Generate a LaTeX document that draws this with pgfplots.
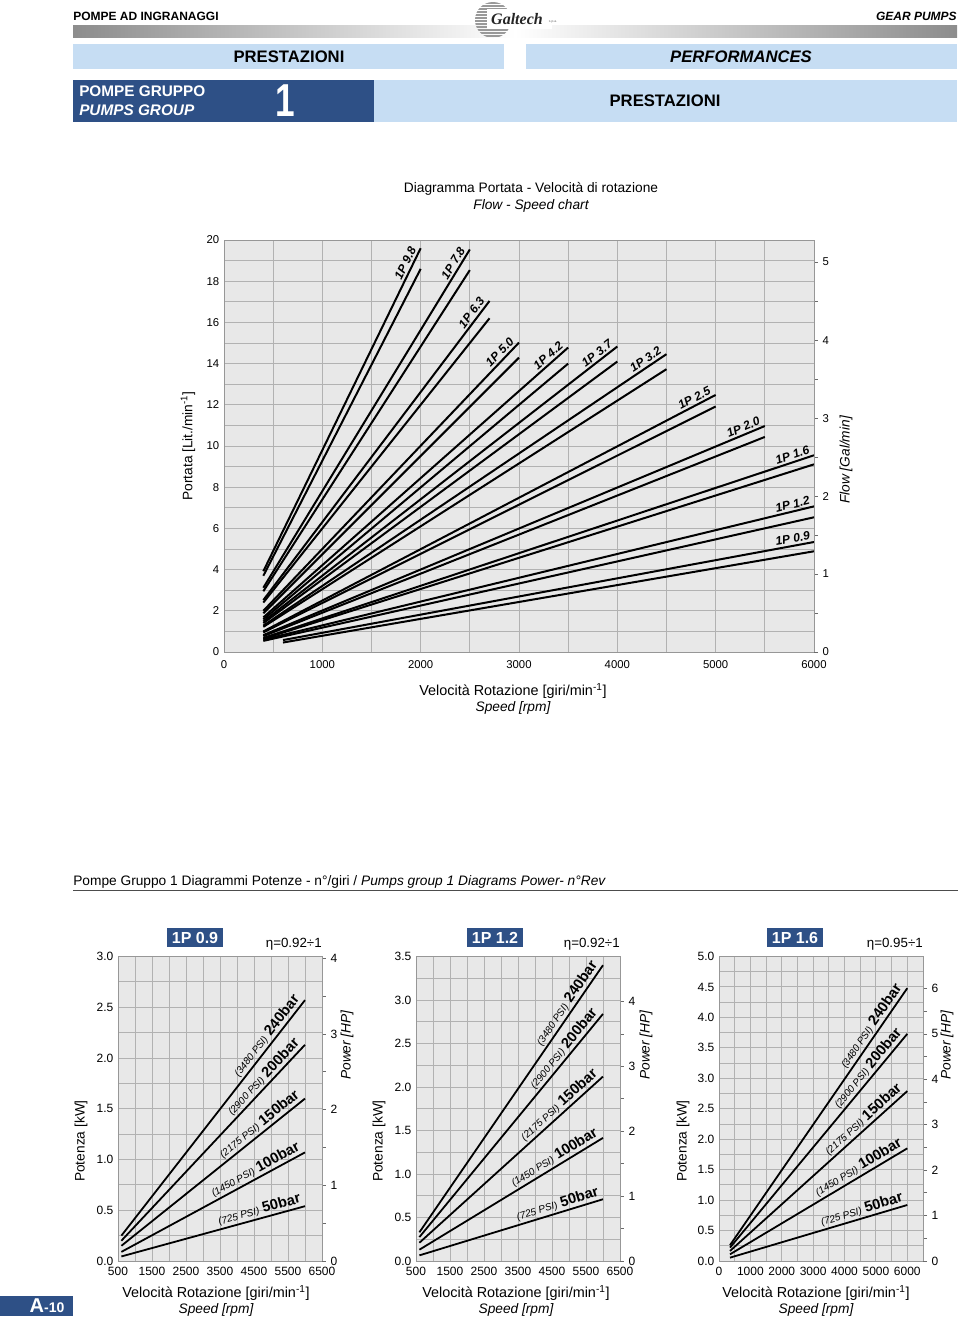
\documentclass[border=0pt]{standalone}
\usepackage{pgfplots}
\pgfplotsset{compat=1.18}
\usepackage{fontspec}
\setmainfont{Liberation Sans}
\newfontfamily\logofont{Liberation Serif}
\definecolor{lblue}{RGB}{198,221,243}
\definecolor{dblue}{RGB}{46,80,134}
\definecolor{plotbg}{RGB}{232,232,232}
\definecolor{gridc}{RGB}{178,178,178}
\newcommand{\fs}[1]{\fontsize{#1}{#1}\selectfont}
\newcommand{\mi}{min\textsuperscript{-1}}
\newcommand{\pl}[2]{{\fs{7.5}\itshape(#1 PSI)} {\fs{11}\bfseries #2bar}}
\tikzset{
  lab/.style={pos=1, sloped, anchor=south east, inner sep=1.5pt, font=\fs{9}\bfseries\itshape},
  plab/.style={pos=1, sloped, anchor=south east, inner sep=1.2pt},
}
\pgfplotsset{
  base/.style={scale only axis, anchor=south west, clip=false,
    axis background/.style={fill=plotbg},
    grid=both, major grid style={draw=gridc, line width=0.7pt}, minor grid style={draw=gridc, line width=0.7pt},
    axis line style={draw=gridc!85!black, line width=0.7pt},
    major tick length=0pt, minor tick length=0pt,
    xtick pos=bottom, ytick pos=left,
    /pgf/number format/assume math mode=true, /pgf/number format/1000 sep={},
    tick label style={font=\fs{8.5}}},
  rbase/.style={scale only axis, anchor=south west, axis x line=none, axis y line*=right,
    y axis line style={draw=gridc!85!black, line width=0.7pt},
    tick align=outside, major tick length=3pt, minor tick length=3pt,
    every tick/.style={gridc!60!black, line width=0.6pt},
    minor y tick num=1,
    /pgf/number format/assume math mode=true,
    tick label style={font=\fs{8.5}}},
  fl/.style={black, line width=1.5pt, line cap=butt},
  pw/.style={black, line width=1.35pt, line cap=butt},
  powax/.style={base, width=153pt, height=228.4pt, ymin=0,
    tick label style={font=\fs{9}},
    xticklabel style={yshift=-1pt},
    yticklabel style={/pgf/number format/.cd, fixed, fixed zerofill, precision=1},
    minor x tick num=1, minor y tick num=1},
  powr/.style={rbase, width=153pt, height=228.4pt, ymin=0, tick label style={font=\fs{9}}},
}
\begin{document}
\begin{tikzpicture}
\path[use as bounding box] (0pt,0pt) rectangle (720pt,-991.5pt);
\clip (0pt,0pt) rectangle (720pt,-991.5pt);
\begin{scope}[x=0.75pt,y=-0.75pt]
% ---------- header ----------
\node[anchor=west, font=\fs{9}\bfseries, inner sep=0] at (73,16) {POMPE AD INGRANAGGI};
\node[anchor=east, font=\fs{9}\bfseries\itshape, inner sep=0] at (957,16) {GEAR PUMPS};
\shade[left color=black!45, right color=white] (73,25) rectangle (515,37);
\shade[left color=white, right color=black!45] (515,25) rectangle (957,37);
\begin{scope}
\clip (493,20) circle (18);
\foreach \yy in {3,6,...,39} \draw[black!40, line width=1.3] (470,\yy) -- (520,\yy);
\end{scope}
\fill[white] (487,9) rectangle (552,29);
\node[font=\logofont\fs{12}\bfseries\itshape, text=black!85, inner sep=0] at (517,19) {Galtech};
\node[font=\fs{2.5}, text=black!60, inner sep=0] at (553,22) {s.p.a.};
\fill[lblue] (73,44) rectangle (504,69);
\node[font=\fs{12.5}\bfseries] at (289,56.5) {PRESTAZIONI};
\fill[lblue] (526,44) rectangle (957,69);
\node[font=\fs{12.5}\bfseries\itshape] at (741,56.5) {PERFORMANCES};
\fill[dblue] (73,80) rectangle (374,122);
\fill[lblue] (374,80) rectangle (957,122);
\node[anchor=west, font=\fs{11.5}\bfseries, text=white, inner sep=0] at (79,91) {POMPE GRUPPO};
\node[anchor=west, font=\fs{11.5}\bfseries\itshape, text=white, inner sep=0] at (79,110) {PUMPS GROUP};
\node[font=\fs{33}\bfseries, text=white, xscale=0.8, yscale=1.05, inner sep=0] at (285,101) {1};
\node[font=\fs{12.5}\bfseries] at (665,101) {PRESTAZIONI};
% ---------- top chart texts ----------
\node[font=\fs{10.3}] at (531,189) {Diagramma Portata - Velocità di rotazione};
\node[font=\fs{10.3}\itshape] at (531,206) {Flow - Speed chart};
\node[rotate=90, font=\fs{10.3}] at (188,446) {Portata [Lit./\mi]};
\node[rotate=90, font=\fs{10.3}\itshape] at (846,460) {Flow [Gal/min]};
\node[font=\fs{10.8}] at (513,691) {Velocità Rotazione [giri/\mi]};
\node[font=\fs{10.3}\itshape] at (513,708) {Speed [rpm]};
% ---------- bottom section texts ----------
\node[anchor=west, font=\fs{10.3}, inner sep=0] at (73,882) {Pompe Gruppo 1 Diagrammi Potenze - n°/giri / \textit{Pumps group 1 Diagrams Power- n°Rev}};
\draw[black!70, line width=0.75] (73,890) -- (958,890);
\foreach \bx/\nm/\et/\rr/\yl/\hp/\cx in {167/0.9/0.92/322/81/347/216, 467/1.2/0.92/620/379/646/516, 767/1.6/0.95/923/683/947/816}{
  \fill[dblue] (\bx,928) rectangle ++(56,19);
  \node[text=white, font=\fs{12}\bfseries] at (\bx+28,937.5) {1P \nm};
  \node[anchor=east, font=\fs{10}, inner sep=0] at (\rr,944) {η=\et÷1};
  \node[rotate=90, font=\fs{10.3}] at (\yl,1141) {Potenza [kW]};
  \node[rotate=90, font=\fs{10.3}\itshape] at (\hp,1045) {Power [HP]};
  \node[font=\fs{10.8}] at (\cx,1293) {Velocità Rotazione [giri/\mi]};
  \node[font=\fs{10.3}\itshape] at (\cx,1310) {Speed [rpm]};
}
\fill[dblue] (0,1296) rectangle (73,1316);
\node[text=white, font=\bfseries, inner sep=0] at (47,1306) {{\fs{15}A}{\fs{10.5}-10}};
\end{scope}

% ================= top chart =================
\begin{axis}[base, at={(168pt,-489pt)}, width=442.5pt, height=309pt,
  xmin=0, xmax=6000, ymin=0, ymax=20,
  xtick={0,1000,...,6000}, minor x tick num=1,
  ytick={0,2,...,20}, minor y tick num=1,
  xticklabel style={yshift=-3pt}]
\addplot[fl] coordinates {(400,3.92) (2000,19.6)} node[lab] {1P 9.8};
\addplot[fl] coordinates {(400,3.70) (2000,18.6)};
\addplot[fl] coordinates {(400,3.12) (2500,19.54)} node[lab] {1P 7.8};
\addplot[fl] coordinates {(400,2.95) (2500,18.54)};
\addplot[fl] coordinates {(400,2.52) (2700,17.04)} node[lab] {1P 6.3};
\addplot[fl] coordinates {(400,2.40) (2700,16.2)};
\addplot[fl] coordinates {(400,2.00) (3000,15.02)} node[lab] {1P 5.0};
\addplot[fl] coordinates {(400,1.88) (3000,14.29)};
\addplot[fl] coordinates {(400,1.68) (3500,14.78)} node[lab] {1P 4.2};
\addplot[fl] coordinates {(400,1.58) (3500,14.0)};
\addplot[fl] coordinates {(400,1.48) (4000,14.83)} node[lab] {1P 3.7};
\addplot[fl] coordinates {(400,1.40) (4000,14.1)};
\addplot[fl] coordinates {(400,1.28) (4500,14.46)} node[lab] {1P 3.2};
\addplot[fl] coordinates {(400,1.22) (4500,13.73)};
\addplot[fl] coordinates {(400,1.00) (5000,12.48)} node[lab] {1P 2.5};
\addplot[fl] coordinates {(400,0.95) (5000,11.92)};
\addplot[fl] coordinates {(400,0.82) (5500,10.97)} node[lab] {1P 2.0};
\addplot[fl] coordinates {(400,0.77) (5500,10.44)};
\addplot[fl] coordinates {(400,0.68) (6000,9.55)} node[lab] {1P 1.6};
\addplot[fl] coordinates {(400,0.64) (6000,9.11)};
\addplot[fl] coordinates {(400,0.60) (6000,7.07)} node[lab] {1P 1.2};
\addplot[fl] coordinates {(400,0.54) (6000,6.54)};
\addplot[fl] coordinates {(600,0.58) (6000,5.34)} node[lab] {1P 0.9};
\addplot[fl] coordinates {(600,0.46) (6000,4.89)};
\end{axis}
\begin{axis}[rbase, at={(168pt,-489pt)}, width=442.5pt, height=309pt,
  xmin=0, xmax=6000, ymin=0, ymax=5.2840, ytick={0,1,...,5}]
\end{axis}

% ================= power chart 1 =================
\begin{axis}[powax, at={(88.5pt,-945.75pt)},
  xmin=500, xmax=6500, xtick={500,1500,...,6500}, ymax=3, ytick={0,0.5,1,1.5,2,2.5,3}]
\addplot[pw] coordinates {(600,0.25) (6000,2.57)} node[plab] {\pl{3480}{240}};
\addplot[pw] coordinates {(600,0.20) (6000,2.13)} node[plab] {\pl{2900}{200}};
\addplot[pw] coordinates {(600,0.15) (6000,1.60)} node[plab] {\pl{2175}{150}};
\addplot[pw] coordinates {(600,0.09) (6000,1.07)} node[plab] {\pl{1450}{100}};
\addplot[pw] coordinates {(600,0.045) (6000,0.54)} node[plab] {\pl{725}{50}};
\end{axis}
\begin{axis}[powr, at={(88.5pt,-945.75pt)}, xmin=500, xmax=6500, ymax=4.0231, ytick={0,1,2,3,4}]
\end{axis}

% ================= power chart 2 =================
\begin{axis}[powax, at={(312pt,-945.75pt)},
  xmin=500, xmax=6500, xtick={500,1500,...,6500}, ymax=3.5, ytick={0,0.5,1,1.5,2,2.5,3,3.5}]
\addplot[pw] coordinates {(600,0.33) (6000,3.40)} node[plab] {\pl{3480}{240}};
\addplot[pw] coordinates {(600,0.275) (6000,2.84)} node[plab] {\pl{2900}{200}};
\addplot[pw] coordinates {(600,0.21) (6000,2.12)} node[plab] {\pl{2175}{150}};
\addplot[pw] coordinates {(600,0.13) (6000,1.415)} node[plab] {\pl{1450}{100}};
\addplot[pw] coordinates {(600,0.065) (6000,0.71)} node[plab] {\pl{725}{50}};
\end{axis}
\begin{axis}[powr, at={(312pt,-945.75pt)}, xmin=500, xmax=6500, ymax=4.6936, ytick={0,1,2,3,4}]
\end{axis}

% ================= power chart 3 =================
\begin{axis}[powax, at={(539.25pt,-945.75pt)},
  xmin=0, xmax=6500, xtick={0,1000,...,6000}, ymax=5, ytick={0,0.5,1,1.5,2,2.5,3,3.5,4,4.5,5}]
\addplot[pw] coordinates {(350,0.26) (6000,4.48)} node[plab] {\pl{3480}{240}};
\addplot[pw] coordinates {(350,0.22) (6000,3.73)} node[plab] {\pl{2900}{200}};
\addplot[pw] coordinates {(350,0.165) (6000,2.79)} node[plab] {\pl{2175}{150}};
\addplot[pw] coordinates {(350,0.11) (6000,1.85)} node[plab] {\pl{1450}{100}};
\addplot[pw] coordinates {(350,0.055) (6000,0.92)} node[plab] {\pl{725}{50}};
\end{axis}
\begin{axis}[powr, at={(539.25pt,-945.75pt)}, xmin=0, xmax=6500, ymax=6.7051, ytick={0,1,...,6}]
\end{axis}
\end{tikzpicture}
\end{document}
